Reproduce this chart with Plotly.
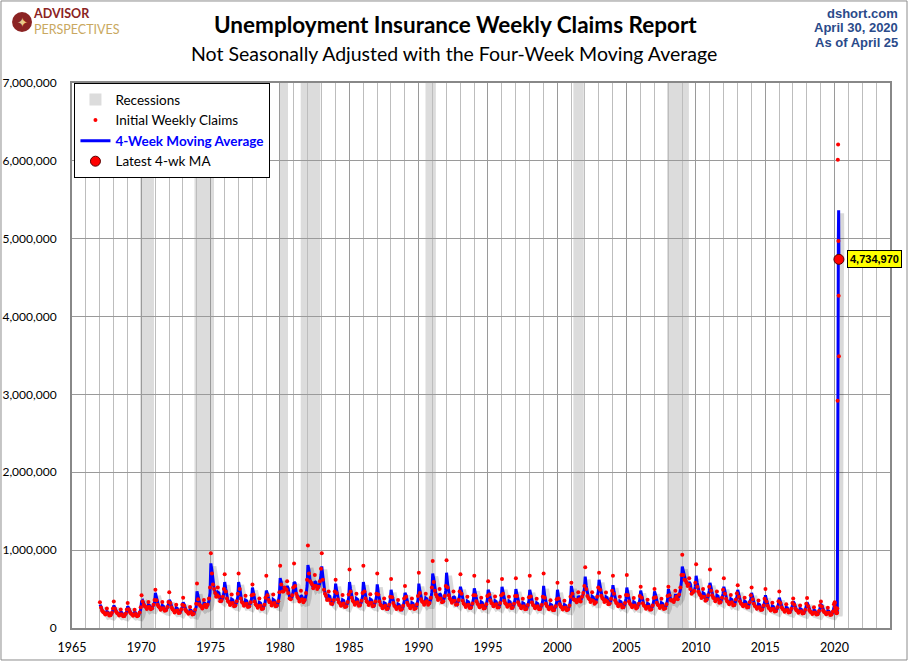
import pandas as pd
import plotly.graph_objects as go

# sampling dates used for each year 1967-2019 (about every 4 weeks)
sample_days = ["01-07", "02-04", "03-04", "04-01", "04-29", "05-27", "06-24",
               "07-08", "08-05", "09-09", "10-14", "11-18", "12-16"]
years = list(range(1967, 2020))

# initial weekly claims, NSA, thousands (one row per year)
claims_60s = [
    330, 262, 220, 205, 195, 172, 186, 250, 190, 160, 165, 195, 250,
    340, 250, 212, 192, 183, 162, 175, 238, 178, 152, 155, 185, 238,
    320, 242, 205, 185, 178, 158, 172, 235, 180, 150, 160, 200, 265,
]
claims_70s = [
    420, 340, 300, 280, 270, 245, 265, 335, 270, 240, 255, 300, 360,
    490, 355, 300, 275, 262, 235, 250, 335, 255, 220, 228, 270, 335,
    460, 320, 265, 240, 228, 200, 218, 300, 225, 192, 198, 240, 300,
    390, 285, 238, 215, 205, 182, 195, 270, 205, 175, 182, 235, 310,
    570, 370, 305, 285, 275, 250, 275, 360, 300, 265, 300, 380, 520,
    960, 700, 560, 500, 450, 400, 420, 520, 400, 345, 350, 400, 500,
    690, 470, 380, 345, 330, 295, 315, 430, 320, 280, 290, 345, 440,
    700, 500, 380, 335, 320, 285, 300, 415, 310, 270, 280, 330, 420,
    560, 430, 340, 305, 290, 260, 280, 380, 285, 245, 252, 300, 390,
    670, 420, 360, 330, 330, 290, 310, 430, 320, 280, 290, 345, 460,
]
claims_80s = [
    800, 560, 470, 470, 520, 500, 490, 600, 450, 380, 370, 420, 520,
    830, 540, 440, 400, 380, 340, 360, 480, 370, 330, 360, 450, 620,
    1060, 700, 600, 580, 560, 510, 540, 680, 540, 500, 530, 600, 760,
    960, 620, 490, 440, 410, 360, 370, 470, 360, 310, 310, 360, 470,
    620, 450, 365, 330, 318, 285, 300, 425, 315, 270, 280, 335, 430,
    750, 470, 390, 350, 335, 300, 320, 440, 330, 285, 295, 350, 450,
    800, 470, 380, 340, 330, 295, 315, 435, 325, 280, 288, 340, 440,
    700, 430, 340, 300, 285, 255, 270, 380, 285, 245, 250, 300, 400,
    630, 395, 320, 285, 272, 243, 260, 360, 270, 233, 240, 285, 380,
    540, 400, 325, 295, 285, 255, 275, 380, 285, 245, 255, 305, 410,
]
claims_90s = [
    710, 450, 370, 340, 330, 300, 330, 440, 345, 300, 320, 390, 520,
    860, 590, 480, 430, 400, 360, 380, 500, 380, 330, 345, 410, 540,
    870, 520, 420, 380, 360, 325, 345, 470, 350, 300, 305, 360, 470,
    690, 440, 350, 315, 300, 270, 290, 400, 300, 258, 262, 315, 420,
    670, 420, 345, 310, 295, 265, 282, 390, 290, 250, 256, 305, 410,
    600, 430, 355, 320, 310, 278, 296, 405, 305, 262, 268, 320, 420,
    630, 440, 350, 318, 305, 272, 290, 400, 298, 258, 262, 312, 410,
    640, 410, 330, 298, 286, 255, 272, 375, 280, 242, 248, 295, 395,
    670, 405, 328, 296, 285, 254, 272, 375, 280, 240, 246, 295, 400,
    700, 390, 312, 282, 270, 242, 258, 355, 265, 228, 232, 280, 370,
]
claims_00s = [
    580, 380, 305, 276, 265, 238, 255, 350, 262, 228, 240, 290, 400,
    580, 440, 370, 360, 360, 330, 355, 460, 370, 340, 400, 450, 540,
    780, 500, 410, 385, 370, 335, 355, 460, 350, 310, 330, 400, 520,
    710, 490, 415, 385, 370, 335, 355, 455, 345, 305, 315, 375, 480,
    670, 440, 355, 325, 310, 280, 300, 400, 300, 262, 270, 320, 425,
    680, 420, 340, 310, 296, 265, 285, 385, 290, 252, 270, 310, 410,
    530, 390, 318, 290, 278, 248, 266, 362, 272, 236, 242, 290, 385,
    500, 395, 325, 298, 288, 258, 276, 375, 284, 245, 255, 305, 410,
    530, 420, 360, 350, 355, 335, 370, 480, 400, 370, 430, 520, 680,
    940, 680, 620, 610, 580, 540, 560, 640, 500, 440, 460, 480, 580,
]
claims_10s = [
    820, 530, 470, 440, 420, 385, 400, 500, 400, 350, 365, 420, 530,
    750, 480, 420, 390, 380, 345, 365, 470, 370, 325, 335, 390, 490,
    640, 440, 375, 345, 335, 305, 322, 425, 330, 288, 300, 365, 445,
    550, 400, 345, 315, 305, 278, 295, 390, 300, 262, 270, 330, 420,
    520, 370, 310, 282, 272, 246, 262, 352, 266, 232, 238, 290, 375,
    500, 340, 285, 258, 248, 224, 240, 325, 244, 212, 218, 265, 345,
    470, 320, 268, 244, 235, 210, 226, 305, 230, 199, 205, 248, 320,
    380, 300, 252, 228, 220, 196, 212, 290, 216, 187, 193, 235, 310,
    385, 278, 232, 210, 202, 180, 195, 265, 199, 172, 178, 218, 290,
    340, 272, 226, 205, 198, 176, 190, 260, 195, 168, 172, 212, 305,
]

# 4-week moving average, thousands
ma_60s = [
    300, 275, 228, 206, 194, 178, 183, 212, 205, 170, 165, 190, 232,
    290, 262, 220, 196, 184, 170, 173, 205, 197, 162, 156, 180, 220,
    280, 255, 213, 190, 178, 166, 170, 200, 195, 160, 158, 190, 240,
]
ma_70s = [
    340, 352, 305, 282, 268, 250, 258, 300, 290, 255, 250, 285, 330,
    450, 380, 310, 280, 262, 240, 246, 290, 280, 232, 226, 258, 305,
    360, 335, 275, 242, 228, 210, 214, 260, 250, 205, 196, 228, 275,
    330, 300, 248, 218, 205, 190, 193, 235, 228, 185, 180, 220, 270,
    470, 395, 315, 290, 275, 258, 268, 320, 315, 280, 290, 350, 450,
    830, 740, 590, 510, 455, 410, 412, 460, 450, 365, 350, 385, 455,
    590, 500, 395, 350, 332, 305, 312, 370, 360, 292, 285, 330, 400,
    590, 520, 400, 342, 322, 295, 298, 358, 350, 283, 276, 318, 385,
    520, 450, 355, 312, 292, 268, 276, 328, 320, 258, 250, 290, 358,
    480, 445, 370, 336, 328, 300, 306, 365, 355, 292, 286, 335, 420,
]
ma_80s = [
    640, 590, 485, 465, 505, 505, 495, 540, 515, 400, 372, 405, 475,
    590, 575, 455, 408, 382, 350, 356, 420, 405, 345, 350, 420, 540,
    810, 745, 615, 585, 560, 520, 535, 600, 585, 515, 520, 575, 680,
    790, 670, 510, 448, 412, 370, 368, 415, 405, 325, 308, 345, 420,
    570, 480, 380, 338, 320, 292, 297, 360, 352, 282, 276, 320, 390,
    590, 500, 402, 355, 336, 310, 316, 378, 368, 298, 290, 335, 410,
    590, 505, 395, 348, 330, 305, 310, 370, 360, 292, 284, 328, 400,
    560, 460, 352, 308, 288, 262, 268, 325, 318, 255, 246, 290, 360,
    490, 420, 332, 292, 274, 250, 256, 308, 300, 245, 236, 275, 340,
    450, 420, 338, 300, 285, 262, 272, 325, 316, 258, 252, 292, 365,
]
ma_90s = [
    570, 480, 385, 345, 332, 310, 325, 385, 375, 315, 315, 370, 460,
    700, 630, 500, 440, 405, 372, 378, 440, 428, 350, 340, 395, 480,
    710, 570, 438, 388, 362, 335, 342, 405, 395, 318, 302, 345, 420,
    530, 470, 365, 322, 302, 278, 286, 345, 335, 272, 260, 305, 375,
    510, 450, 358, 316, 296, 272, 280, 335, 325, 262, 254, 295, 365,
    490, 455, 370, 326, 310, 285, 293, 350, 340, 275, 266, 308, 375,
    530, 465, 365, 323, 305, 280, 288, 345, 335, 270, 260, 302, 368,
    500, 435, 342, 303, 287, 262, 270, 322, 314, 255, 245, 285, 352,
    490, 430, 340, 302, 286, 260, 270, 322, 312, 253, 244, 285, 355,
    540, 420, 325, 288, 272, 248, 255, 305, 296, 240, 230, 270, 330,
]
ma_00s = [
    490, 405, 318, 282, 266, 245, 252, 300, 292, 240, 236, 278, 355,
    540, 470, 385, 362, 358, 338, 350, 410, 395, 350, 385, 440, 500,
    660, 540, 425, 390, 372, 345, 352, 405, 395, 325, 325, 385, 465,
    620, 530, 430, 390, 372, 345, 350, 400, 390, 320, 312, 360, 430,
    550, 470, 370, 330, 312, 288, 296, 345, 338, 275, 266, 308, 380,
    520, 450, 355, 316, 298, 274, 282, 335, 325, 265, 262, 300, 365,
    480, 420, 330, 295, 280, 256, 262, 315, 305, 250, 240, 278, 345,
    470, 425, 338, 303, 288, 265, 272, 325, 316, 258, 252, 292, 365,
    500, 445, 372, 352, 352, 340, 362, 420, 420, 385, 410, 490, 600,
    790, 720, 635, 615, 585, 550, 555, 590, 570, 465, 455, 470, 530,
]
ma_10s = [
    670, 580, 482, 445, 422, 392, 398, 450, 440, 368, 360, 405, 475,
    580, 520, 432, 395, 380, 352, 362, 420, 410, 340, 330, 375, 440,
    530, 475, 388, 350, 336, 312, 320, 375, 365, 300, 295, 345, 400,
    490, 430, 358, 320, 306, 285, 292, 345, 335, 275, 266, 312, 375,
    450, 395, 322, 287, 274, 252, 260, 308, 300, 243, 236, 275, 335,
    420, 360, 296, 263, 250, 230, 238, 282, 275, 223, 216, 252, 310,
    390, 340, 278, 248, 236, 217, 224, 265, 258, 210, 203, 236, 290,
    340, 318, 262, 232, 221, 203, 210, 250, 243, 197, 191, 224, 280,
    330, 295, 242, 214, 203, 187, 193, 228, 222, 181, 176, 206, 258,
    300, 288, 236, 209, 199, 182, 188, 224, 218, 177, 172, 200, 265,
]

# 2020, weekly (week ending Jan 4 .. Apr 25), thousands
claims_2020 = [330, 320, 265, 240, 225, 215, 200, 193, 190, 200, 251,
               2920, 6015, 6211, 4970, 4267, 3490]
ma_2020 = [290, 310, 305, 290, 263, 237, 220, 208, 200, 196, 209,
           890, 2347, 3849, 5029, 5366, 4735]
latest_ma_label = "4,734,970"

rec_start = ["1969-12-01", "1973-11-01", "1980-01-01", "1981-07-01",
             "1990-07-01", "2001-03-01", "2007-12-01"]
rec_end = ["1970-11-30", "1975-03-31", "1980-07-31", "1982-11-30",
           "1991-03-31", "2001-11-30", "2009-06-30"]

dates = [f"{y}-{d}" for y in years for d in sample_days]
dates += list(pd.date_range("2020-01-04", periods=len(claims_2020), freq="7D").strftime("%Y-%m-%d"))
claims = [v * 1000 for v in claims_60s + claims_70s + claims_80s + claims_90s
          + claims_00s + claims_10s + claims_2020]
ma = [v * 1000 for v in ma_60s + ma_70s + ma_80s + ma_90s + ma_00s + ma_10s + ma_2020]

font = "Lato"
fig = go.Figure()

# shadow of the moving average (drawn on a slightly shifted hidden axis)
fig.add_trace(go.Scatter(x=dates, y=ma, mode="lines", xaxis="x2", yaxis="y2",
                         line=dict(color="rgba(0,0,0,0.15)", width=5),
                         showlegend=False, hoverinfo="skip"))

fig.add_trace(go.Scatter(x=dates, y=ma, mode="lines", xaxis="x3", yaxis="y3",
                         name="<b><span style='color:#0000FF'>4-Week Moving Average</span></b>",
                         line=dict(color="#0000FF", width=3), legendrank=3))
fig.add_trace(go.Scatter(x=dates, y=claims, mode="markers", xaxis="x3", yaxis="y3",
                         name="Initial Weekly Claims", legendrank=2,
                         marker=dict(color="#FF0000", size=4)))
fig.add_trace(go.Scatter(x=[dates[-1]], y=[ma[-1]], mode="markers", xaxis="x3", yaxis="y3",
                         name="Latest 4-wk MA", legendrank=4,
                         marker=dict(color="#FF0000", size=10,
                                     line=dict(color="#5a0000", width=1))))

shapes = []
for i, (s, e) in enumerate(zip(rec_start, rec_end)):
    shapes.append(dict(type="rect", xref="x", yref="paper", x0=s, x1=e, y0=0, y1=1,
                       fillcolor="#DCDCDC", line=dict(width=0), layer="below",
                       showlegend=(i == 0), name="Recessions", legendrank=1))
# outer frame of the image
shapes.append(dict(type="rect", xref="paper", yref="paper", x0=-0.0868, x1=1.0208,
                   y0=-0.0587, y1=1.1505, line=dict(color="#8c8c8c", width=1)))
# logo badge
shapes.append(dict(type="circle", xref="paper", yref="paper", x0=-0.0733, x1=-0.0489,
                   y0=1.0936, y1=1.1303, fillcolor="#8B2323", line=dict(width=0)))

annotations = [
    dict(text="<b>Unemployment Insurance Weekly Claims Report</b>", x=0.4694, y=1.1073,
         xref="paper", yref="paper", showarrow=False, xanchor="center", yanchor="middle",
         font=dict(family=font, size=22.5, color="#000")),
    dict(text="Not Seasonally Adjusted with the Four-Week Moving Average", x=0.467, y=1.054,
         xref="paper", yref="paper", showarrow=False, xanchor="center", yanchor="middle",
         font=dict(family=font, size=19.5, color="#000")),
    dict(text="<b>dshort.com</b>", x=1.0122, y=1.1275, xref="paper", yref="paper",
         showarrow=False, xanchor="right", yanchor="middle",
         font=dict(family="Liberation Sans", size=13, color="#2A4A8A")),
    dict(text="<b>April 30, 2020</b>", x=1.0122, y=1.1018, xref="paper", yref="paper",
         showarrow=False, xanchor="right", yanchor="middle",
         font=dict(family="Liberation Sans", size=13, color="#2A4A8A")),
    dict(text="<b>As of April 25</b>", x=1.0122, y=1.0734, xref="paper", yref="paper",
         showarrow=False, xanchor="right", yanchor="middle",
         font=dict(family="Liberation Sans", size=13, color="#2A4A8A")),
    dict(text="<b><span style='color:#8B2323'>ADVISOR</span></b><br>"
              "<span style='color:#C9A860'>PERSPECTIVES</span>",
         x=-0.0489, y=1.112, xref="paper", yref="paper", align="left",
         showarrow=False, xanchor="left", yanchor="middle", borderpad=0,
         font=dict(family=font, size=12.5)),
    dict(text="✦", x=-0.0611, y=1.112, xref="paper", yref="paper",
         showarrow=False, xanchor="center", yanchor="middle",
         font=dict(size=13, color="#E8C98A")),
    dict(text="<b>" + latest_ma_label + "</b>", x=dates[-1], y=ma[-1], xref="x3", yref="y3",
         showarrow=False, xanchor="left", yanchor="middle", xshift=8,
         bgcolor="#FFFF00", bordercolor="#000", borderwidth=1, borderpad=2,
         font=dict(family="Liberation Sans", size=11, color="#000")),
]

x_range = ["1965-01-01", "2024-01-01"]
y_range = [0, 7000000]

fig.update_layout(
    width=910, height=661,
    margin=dict(l=72, r=20, t=83, b=33),
    paper_bgcolor="white", plot_bgcolor="white",
    font=dict(family=font, size=12, color="#000"),
    shapes=shapes, annotations=annotations,
    showlegend=True,
    legend=dict(x=0.003, y=0.9995, xanchor="left", yanchor="top",
                bgcolor="white", bordercolor="#000", borderwidth=1,
                font=dict(family=font, size=13.5, color="#000"),
                tracegroupgap=0, itemwidth=30),
    xaxis=dict(type="date", range=x_range, tick0="1965-01-01", dtick="M60",
               tickformat="%Y", showgrid=True, gridcolor="#9a9a9a", gridwidth=1,
               minor=dict(dtick="M12", showgrid=True, gridcolor="#bdbdbd", gridwidth=1),
               showline=True, linecolor="#888", linewidth=2, mirror=True,
               ticks="", zeroline=False, tickfont=dict(size=12.5), ticklabelstandoff=7,
               automargin=False),
    yaxis=dict(range=y_range, dtick=1000000, tickformat=",", showgrid=True,
               gridcolor="#9a9a9a", gridwidth=1, showline=True, linecolor="#888",
               linewidth=2, mirror=True, ticks="", zeroline=False,
               tickfont=dict(size=12), ticklabelstandoff=11, automargin=False),
    xaxis2=dict(type="date", range=["1964-10-14", "2023-10-14"], overlaying="x",
                visible=False, anchor="y2"),
    yaxis2=dict(range=[38500, 7038500], overlaying="y", visible=False, anchor="x2"),
    xaxis3=dict(type="date", range=x_range, overlaying="x", visible=False, anchor="y3"),
    yaxis3=dict(range=y_range, overlaying="y", visible=False, anchor="x3"),
)

fig.write_html("out.html", config={"displayModeBar": False},
               post_script="document.body.style.margin='0px';")
